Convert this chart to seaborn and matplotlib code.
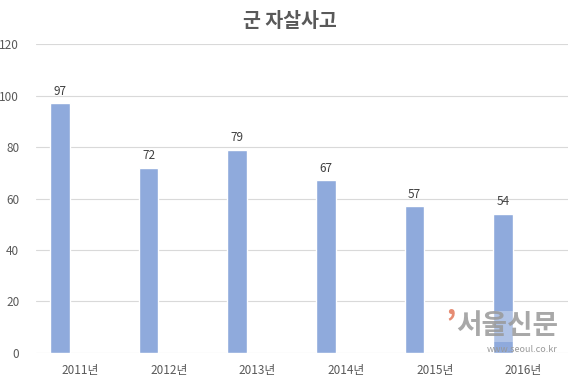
import matplotlib.pyplot as plt
import pandas as pd
import seaborn as sns

years = ['2011년', '2012년', '2013년', '2014년', '2015년', '2016년']
cases = [97, 72, 79, 67, 57, 54]

df = pd.DataFrame({'year': years, 'cases': cases})

sns.set_style('white')
plt.rcParams['font.family'] = ['Noto Sans CJK KR', 'DejaVu Sans']

fig = plt.figure(figsize=(5.8, 3.86), dpi=100)
ax = fig.add_axes([0.062, 0.0855, 0.917, 0.8005])

sns.barplot(data=df, x='year', y='cases', color='#8FAADC', width=0.22,
            saturation=1, ax=ax, zorder=2)

# bars sit left of the category centre (excel clustered style)
for p in ax.patches:
    p.set_x(p.get_x() - 0.23)

ax.bar_label(ax.containers[0], padding=4, fontsize=8.5, color='#404040')

ax.set_ylim(0, 120)
ax.set_yticks(range(0, 121, 20))
ax.yaxis.grid(True, color='#d9d9d9', linewidth=0.8, zorder=0)
ax.set_axisbelow(True)
for s in ax.spines.values():
    s.set_visible(False)
ax.tick_params(length=0, labelsize=8.5, colors='#595959')
ax.tick_params(axis='x', pad=8)
ax.tick_params(axis='y', pad=12)
ax.set_xlabel('')
ax.set_ylabel('')

fig.text(0.5, 0.945, '군 자살사고', ha='center', va='center',
         fontsize=14, fontweight='bold', color='#595959')

# newspaper watermark
fig.text(0.778, 0.16, '’', color='#e07050', fontsize=24, fontweight='bold',
         ha='center', va='center', alpha=0.8)
fig.text(0.875, 0.155, '서울신문', color='#999999', fontsize=20, fontweight='bold',
         ha='center', va='center', alpha=0.85,
         bbox=dict(facecolor='white', edgecolor='none', alpha=0.3, pad=1))
fig.text(0.9, 0.095, 'www.seoul.co.kr', color='#999999', fontsize=6.5,
         ha='center', va='center')

fig.savefig('out.png', dpi=100)
